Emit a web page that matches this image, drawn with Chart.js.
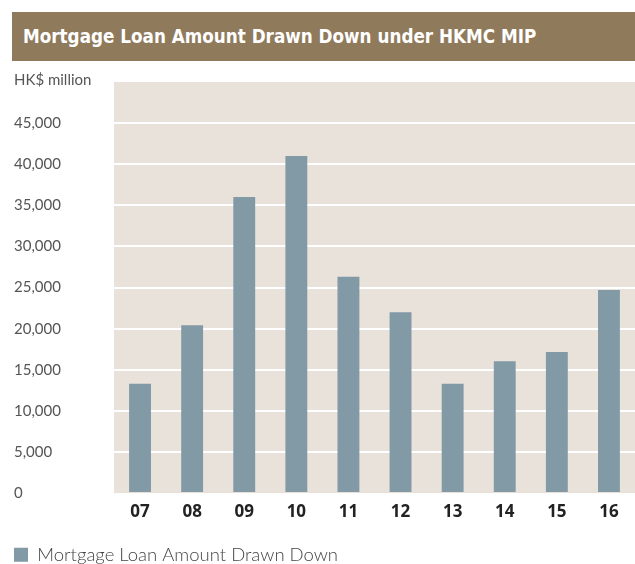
<!DOCTYPE html>
<html>
<head>
<meta charset="utf-8">
<script src="https://cdn.jsdelivr.net/npm/chart.js@4/dist/chart.umd.min.js"></script>
<style>
  html, body { margin: 0; padding: 0; background: #ffffff; overflow: hidden; }
  #wrap { position: relative; width: 635px; height: 564px; overflow: hidden; }
  #titleBar {
    position: absolute; left: 12px; top: 12px; width: 623px; height: 49px;
    background: #8f7a5b; color: #ffffff;
    font-family: "DejaVu Sans Condensed", "DejaVu Sans", sans-serif;
    font-weight: bold; font-size: 18.7px; line-height: 49px;
    box-sizing: border-box; padding-left: 11px;
  }
  #unit {
    position: absolute; left: 14px; top: 70px;
    font-family: Lato, sans-serif; font-weight: 400; font-size: 15px; color: #555555;
  }
  canvas { position: absolute; left: 0; top: 0; }
</style>
</head>
<body>
<div id="wrap">
  <canvas id="loanChart" width="635" height="576"></canvas>
  <div id="titleBar">Mortgage Loan Amount Drawn Down under HKMC MIP</div>
  <div id="unit">HK$ million</div>
</div>
<script>
// Data
const years = ['07', '08', '09', '10', '11', '12', '13', '14', '15', '16'];
const amounts = [13300, 20400, 36000, 41000, 26300, 22000, 13300, 16050, 17150, 24700];
const seriesName = 'Mortgage Loan Amount Drawn Down';

const barColour = '#8299a6';
const plotColour = '#e9e2db';
const labelColour = '#555555';

const plotBackground = {
    id: 'plotBackground',
    beforeDraw(chart) {
        const { ctx, chartArea } = chart;
        ctx.save();
        ctx.fillStyle = plotColour;
        ctx.fillRect(chartArea.left, chartArea.top, chartArea.right - chartArea.left, chartArea.bottom - chartArea.top);
        ctx.restore();
    }
};

new Chart(document.getElementById('loanChart'), {
    type: 'bar',
    data: {
        labels: years,
        datasets: [{
            label: seriesName,
            data: amounts,
            backgroundColor: barColour,
            barPercentage: 0.42,
            categoryPercentage: 1.0
        }]
    },
    options: {
        responsive: false,
        animation: false,
        layout: { padding: { left: 14, top: 82, right: 0, bottom: 2 } },
        scales: {
            x: {
                grid: { display: false },
                border: { display: false },
                afterFit(scale) { scale.height += 22; },
                ticks: {
                    padding: 1,
                    color: '#222222',
                    font: { family: 'Open Sans', size: 17, weight: 'bold' }
                }
            },
            y: {
                min: 0,
                max: 50000,
                border: { display: false },
                grid: {
                    color: (c) => (c.tick && (c.tick.value === 0 || c.tick.value === 50000)) ? 'rgba(0,0,0,0)' : '#ffffff',
                    lineWidth: 2,
                    drawTicks: false
                },
                afterFit(scale) { scale.width = 100; },
                ticks: {
                    stepSize: 5000,
                    crossAlign: 'far',
                    color: labelColour,
                    font: { family: 'Lato', size: 15, weight: '400' },
                    callback: (v) => v === 50000 ? '' : v.toLocaleString('en-US')
                }
            }
        },
        plugins: {
            legend: {
                position: 'bottom',
                align: 'start',
                labels: {
                    boxWidth: 14,
                    boxHeight: 14,
                    padding: 0,
                    color: '#444444',
                    font: { family: 'Lato', size: 18.5, weight: '300' }
                }
            },
            tooltip: { enabled: false }
        }
    },
    plugins: [plotBackground]
});
</script>
</body>
</html>
